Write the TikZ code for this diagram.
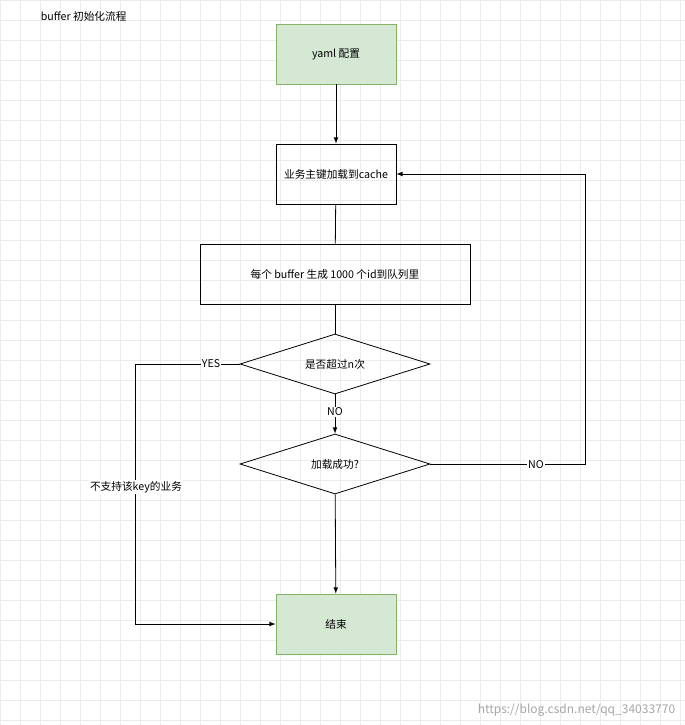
\documentclass[tikz,border=0pt]{standalone}
\usepackage{fontspec}
\setmainfont{Noto Sans CJK SC}
\usetikzlibrary{shapes.geometric}

\definecolor{startfill}{HTML}{D5E8D4}
\definecolor{startline}{HTML}{82B366}
\tikzset{
  box/.style={draw, minimum width=90pt, minimum height=45pt, font=\fontsize{8}{10}\selectfont},
  start/.style={box, fill=startfill, draw=startline},
  wide/.style={box, minimum width=202.5pt},
  decision/.style={draw, diamond, aspect=3.17, minimum width=142.5pt, minimum height=45pt, inner sep=0pt, font=\fontsize{8}{10}\selectfont},
  lbl/.style={fill=white, inner sep=1pt, font=\fontsize{8}{10}\selectfont},
  flow/.style={-latex, semithick},
}

\begin{document}
\begin{tikzpicture}[x=0.75pt, y=-0.75pt, semithick]
	\useasboundingbox (0,0) rectangle (685,725);
	% background grid
	\begin{scope}[black!8, line width=0.3pt]
		\foreach \gx in {0,20,...,680} \draw (\gx,0) -- (\gx,725);
		\foreach \gy in {0,20,...,720} \draw (0,\gy) -- (685,\gy);
	\end{scope}

	\node[anchor=west, font=\fontsize{8}{10}\selectfont] (title) at (36,16) {buffer 初始化流程};

	\node[start] (yaml) at (336,54) {yaml 配置};
	\node[box] (cache) at (336,174) {业务主键加载到cache};
	\node[wide] (gen) at (335,274) {每个 buffer 生成 1000 个id到队列里};
	\node[decision] (times) at (335,364) {是否超过n次};
	\node[decision] (ok) at (335,464) {加载成功?};
	\node[start] (done) at (336,624) {结束};

	\coordinate (rt) at (585,464);
	\coordinate (rb) at (585,174);
	\coordinate (lt) at (135,364);
	\coordinate (lb) at (135,624);

	\draw[flow] (yaml) -- (cache);
	\draw (cache) -- (gen);
	\draw (gen) -- (times);
	\draw[flow] (times) -- node[lbl, pos=0.45] {NO} (ok);
	\draw[flow] (ok.east) -- (rt) -- (rb) -- (cache.east);
	\draw[flow] (ok) -- (done);
	\draw[flow] (times.west) -- (lt) -- (lb) -- (done.west);

	\node[lbl] (no2) at (536,465) {NO};
	\node[lbl] (yes) at (211,364) {YES};
	\node[lbl] (unsup) at (136,487) {不支持该key的业务};

	\node[anchor=east, black!35, font=\fontsize{9}{10}\selectfont] (mark) at (680,710) {https://blog.csdn.net/qq\_34033770};
\end{tikzpicture}
\end{document}
